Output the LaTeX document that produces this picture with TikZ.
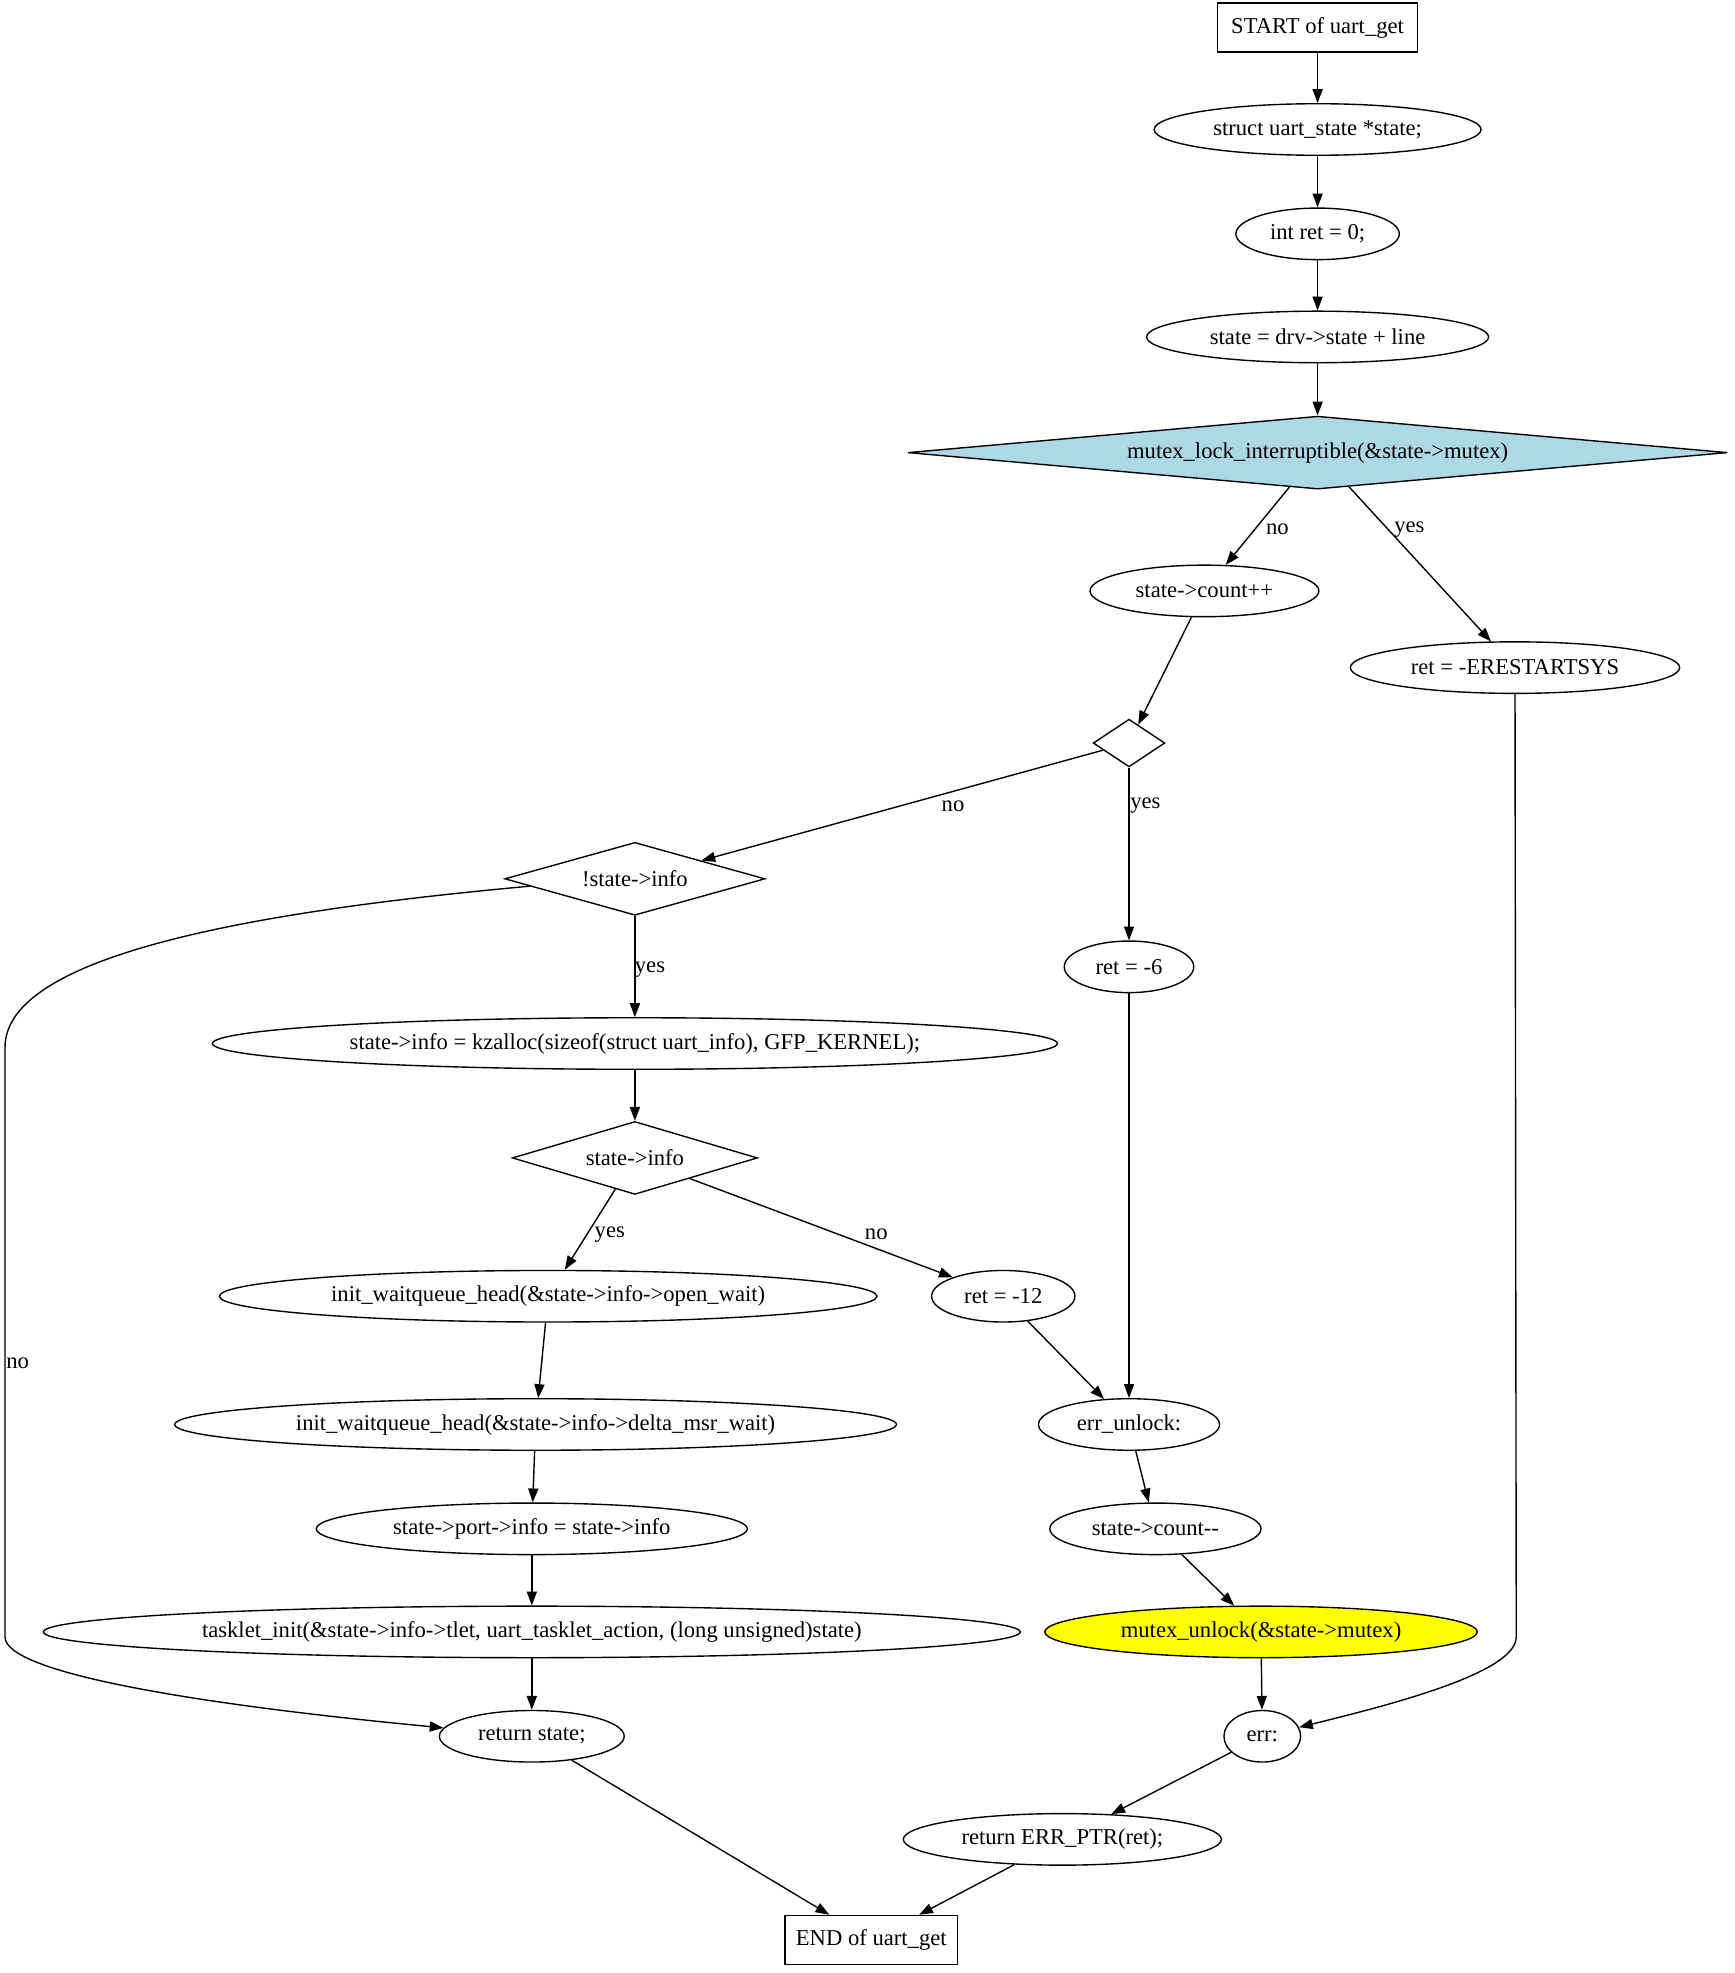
\documentclass[tikz,border=0pt]{standalone}
\usepackage{fontspec}
\setmainfont{Liberation Serif}[Ligatures=TeXOff]
\usetikzlibrary{shapes.geometric,arrows.meta}
\definecolor{gvlightblue}{HTML}{ADD8E6}
\definecolor{gvyellow}{HTML}{FFFF00}
\begin{document}
\begin{tikzpicture}[x=1pt,y=-1pt,
  every node/.style={font=\fontsize{18}{21}\selectfont},
  base/.style={draw, line width=1.1pt, inner sep=0pt},
  ell/.style={base, ellipse, minimum height=41pt},
  boxn/.style={base, rectangle, minimum height=39pt},
  dia/.style={base, diamond},
  lbl/.style={inner sep=0pt},
  conn/.style={draw, line width=1.1pt, -{Triangle[length=11pt,width=8pt]}}
]
\useasboundingbox (0,0) rectangle (1380,1569.3);

% nodes
\node[boxn, minimum width=159pt] (start) at (1048,22) {START of uart\_get};
\node[ell, minimum width=260pt] (decl) at (1048,103) {struct uart\_state *state;};
\node[ell, minimum width=130pt] (ret0) at (1048,186) {int ret = 0;};
\node[ell, minimum width=272pt] (st) at (1048,268) {state = drv->state + line};
\node[dia, fill=gvlightblue, minimum width=652pt, minimum height=58pt, aspect=11.2] (lock) at (1048,360) {mutex\_lock\_interruptible(\&state->mutex)};
\node[ell, minimum width=182pt] (cnt) at (958,470) {state->count++};
\node[ell, minimum width=262pt] (erst) at (1205,531) {ret = -ERESTARTSYS};
\node[dia, minimum width=57pt, minimum height=38pt, aspect=1.5] (d0) at (898,591) {};
\node[dia, minimum width=207pt, minimum height=58pt, aspect=3.57] (ninfo) at (505,699) {!state->info};
\node[ell, minimum width=103pt] (r6) at (898,769) {ret = -6};
\node[ell, minimum width=672pt] (kz) at (505,830) {state->info = kzalloc(sizeof(struct uart\_info), GFP\_KERNEL);};
\node[dia, minimum width=195pt, minimum height=58pt, aspect=3.36] (info) at (505,921) {state->info};
\node[ell, minimum width=523pt] (ow) at (436,1031) {init\_waitqueue\_head(\&state->info->open\_wait)};
\node[ell, minimum width=114pt] (r12) at (798,1031) {ret = -12};
\node[ell, minimum width=574pt] (dm) at (426,1133) {init\_waitqueue\_head(\&state->info->delta\_msr\_wait)};
\node[ell, minimum width=144pt] (eu) at (898,1133) {err\_unlock:};
\node[ell, minimum width=343pt] (pi) at (423,1216) {state->port->info = state->info};
\node[ell, minimum width=168pt] (cntd) at (919,1216) {state->count--};
\node[ell, minimum width=777pt] (tk) at (423,1298) {tasklet\_init(\&state->info->tlet, uart\_tasklet\_action, (long unsigned)state)};
\node[ell, fill=gvyellow, minimum width=344pt] (mu) at (1003,1298) {mutex\_unlock(\&state->mutex)};
\node[ell, minimum width=147pt] (rs) at (423,1381) {return state;};
\node[ell, minimum width=61pt] (err) at (1004,1381) {err:};
\node[ell, minimum width=253pt] (rep) at (845,1463) {return ERR\_PTR(ret);};
\node[boxn, minimum width=137pt] (end) at (693,1543) {END of uart\_get};

% labels
\node[lbl] (l1) at (1016,421) {no};
\node[lbl] (l2) at (1121,421) {yes};
\node[lbl] (l3) at (758,641) {no};
\node[lbl] (l4) at (911,641) {yes};
\node[lbl] (l5) at (517,771) {yes};
\node[lbl] (l6) at (14,1084) {no};
\node[lbl] (l7) at (485,982) {yes};
\node[lbl] (l8) at (697,982) {no};

% connectors
\draw[conn] (start) -- (decl);
\draw[conn] (decl) -- (ret0);
\draw[conn] (ret0) -- (st);
\draw[conn] (st) -- (lock);
\draw[conn] (lock) -- (cnt);
\draw[conn] (lock) -- (erst);
\draw[conn] (cnt) -- (d0);
\draw[conn] (d0) -- (ninfo);
\draw[conn] (d0) -- (r6);
\draw[conn] (ninfo) -- (kz);
\draw[conn] (ninfo.184) .. controls (200,725) and (4,760) .. (4,833) -- (4,1302) .. controls (4,1330) and (150,1355) .. (rs);
\draw[conn] (kz) -- (info);
\draw[conn] (info) -- (ow);
\draw[conn] (info) -- (r12);
\draw[conn] (ow) -- (dm);
\draw[conn] (dm) -- (pi);
\draw[conn] (pi) -- (tk);
\draw[conn] (tk) -- (rs);
\draw[conn] (r6) -- (eu);
\draw[conn] (r12) -- (eu);
\draw[conn] (eu) -- (cntd);
\draw[conn] (cntd) -- (mu);
\draw[conn] (mu) -- (err);
\draw[conn] (erst) -- (1206,1302) .. controls (1206,1330) and (1110,1355) .. (err);
\draw[conn] (err) -- (rep);
\draw[conn] (rs) -- (end);
\draw[conn] (rep) -- (end);
\end{tikzpicture}
\end{document}
